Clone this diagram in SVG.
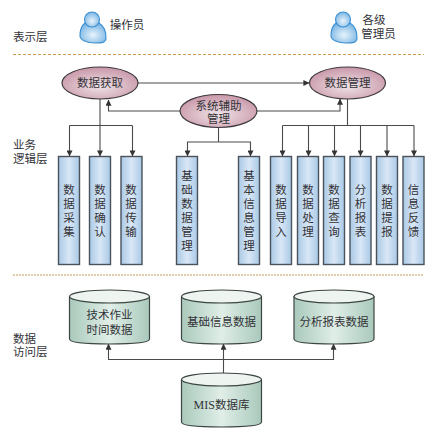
<svg xmlns="http://www.w3.org/2000/svg" width="435" height="433" viewBox="0 0 435 433">
<style>
text{font-family:"Noto Sans CJK SC","Noto Sans",sans-serif;font-size:11.5px;fill:#333338;text-anchor:middle}
.l{text-anchor:start}
.mis{font-family:"Liberation Serif",serif;font-size:12px}
.pe{fill:url(#pink);stroke:#3f3a40;stroke-width:1.2}
.bx{fill:url(#blue);stroke:#4a525c;stroke-width:1.4}
.cy{fill:url(#green);stroke:#3c4542;stroke-width:1.2}
.ct{fill:#eef5f1;stroke:#3c4542;stroke-width:1.2}
.p{fill:url(#sky);stroke:#3d8fd0;stroke-width:1.1}
.c{fill:none;stroke:#4a4a4a;stroke-width:1.1}
.a{marker-end:url(#ah)}
.d1{stroke:#c99a50;stroke-width:1;stroke-dasharray:3 2;fill:none}
.d2{stroke:#d8bc90;stroke-width:1.6;stroke-dasharray:2 1;fill:none}
</style>
<defs>
<marker id="ah" viewBox="0 0 8 8" refX="7.5" refY="4" markerWidth="6" markerHeight="6" markerUnits="userSpaceOnUse" orient="auto"><path d="M0 0L8 4L0 8Z" fill="#333"/></marker>
<radialGradient id="pink" cx="0.5" cy="0.6" r="0.6"><stop offset="0" stop-color="#efe3e7"/><stop offset="1" stop-color="#c896a8"/></radialGradient>
<linearGradient id="blue" x1="0" x2="1" y1="0" y2="0"><stop offset="0" stop-color="#a9c9e6"/><stop offset="0.5" stop-color="#d9e7f6"/><stop offset="1" stop-color="#a9c9e6"/></linearGradient>
<linearGradient id="green" x1="0" x2="1" y1="0" y2="0"><stop offset="0" stop-color="#a9c9bb"/><stop offset="0.5" stop-color="#e0eee7"/><stop offset="1" stop-color="#a9c9bb"/></linearGradient>
<radialGradient id="sky" cx="0.5" cy="0.6" r="0.65"><stop offset="0" stop-color="#e8f3fb"/><stop offset="1" stop-color="#6fb0e2"/></radialGradient>
<g id="person"><path class="p" d="M-8 -5C-12 -2 -13 3 -13 8C-13 12 -6 15 2 15C8 15 13 15 13 10C13 3 11 -2 6 -5C2 -2 -4 -2 -8 -5Z"/><circle class="p" cx="-1" cy="-8.500" r="7.500"/></g>
<g id="cyl"><path class="cy" d="M0 6.500V49Q0 54 40 54Q80 54 80 49V6.500Z"/><ellipse class="ct" cx="40" cy="6.500" rx="40" ry="6.500"/></g>
</defs>
<g id="layers">
<path class="d1" d="M13 54.500H424"/>
<path class="d2" d="M13 275H424"/>
<text class="l" x="13" y="41">表示层</text>
<text class="l" x="13" y="149">业务</text>
<text class="l" x="13" y="163">逻辑层</text>
<text class="l" x="13" y="343">数据</text>
<text class="l" x="13" y="356">访问层</text>
</g>
<g id="connectors">
<path class="c a" d="M138 83H309"/>
<path class="c a" d="M180 111H108.500V100"/>
<path class="c a" d="M257 111H340V99"/>
<path class="c" d="M100 99V125.500M69.500 125.500H132.500"/>
<path class="c a" d="M69.500 125.500V156"/>
<path class="c a" d="M100 125.500V156"/>
<path class="c a" d="M132.500 125.500V156"/>
<path class="c" d="M218.500 127V142"/>
<path class="c a" d="M218.500 142H187.500V156"/>
<path class="c a" d="M218.500 142H250.500V156"/>
<path class="c" d="M347.500 99V125.500M282.500 125.500H414"/>
<path class="c a" d="M282.500 125.500V156"/>
<path class="c a" d="M308.500 125.500V156"/>
<path class="c a" d="M334.500 125.500V156"/>
<path class="c a" d="M360.500 125.500V156"/>
<path class="c a" d="M387 125.500V156"/>
<path class="c a" d="M414 125.500V156"/>
<path class="c a" d="M223.500 373V344"/>
<path class="c a" d="M223.500 359.500H108.500V344"/>
<path class="c a" d="M223.500 359.500H333.500V344"/>
</g>
<g id="op"><use href="#person" x="93" y="28"/><text x="127" y="29">操作员</text></g>
<g id="admin"><use href="#person" x="344" y="28"/><text x="374" y="24">各级</text><text x="378.500" y="38">管理员</text></g>
<g id="acquire"><ellipse class="pe" cx="100" cy="83" rx="38" ry="16"/><text x="100" y="87">数据获取</text></g>
<g id="manage"><ellipse class="pe" cx="347.500" cy="83" rx="38" ry="16"/><text x="347.500" y="87">数据管理</text></g>
<g id="support"><ellipse class="pe" cx="218.500" cy="111" rx="38.500" ry="16.500"/><text x="218.500" y="110">系统辅助</text><text x="218.500" y="123">管理</text></g>
<g id="n1"><rect class="bx" x="58.500" y="156.500" width="21" height="108"/><text x="69" y="194">数</text><text x="69" y="208">据</text><text x="69" y="222">采</text><text x="69" y="236">集</text></g>
<g id="n2"><rect class="bx" x="89.500" y="156.500" width="21" height="108"/><text x="100" y="194">数</text><text x="100" y="208">据</text><text x="100" y="222">确</text><text x="100" y="236">认</text></g>
<g id="n3"><rect class="bx" x="121" y="156.500" width="21" height="108"/><text x="131" y="194">数</text><text x="131" y="208">据</text><text x="131" y="222">传</text><text x="131" y="236">输</text></g>
<g id="n4"><rect class="bx" x="176.500" y="156.500" width="21" height="108"/><text x="187" y="179.500">基</text><text x="187" y="194">础</text><text x="187" y="208">数</text><text x="187" y="222">据</text><text x="187" y="236">管</text><text x="187" y="250">理</text></g>
<g id="n5"><rect class="bx" x="238.500" y="156.500" width="21" height="108"/><text x="249" y="179.500">基</text><text x="249" y="194">本</text><text x="249" y="208">信</text><text x="249" y="222">息</text><text x="249" y="236">管</text><text x="249" y="250">理</text></g>
<g id="n6"><rect class="bx" x="270.500" y="156.500" width="21" height="108"/><text x="281" y="194">数</text><text x="281" y="208">据</text><text x="281" y="222">导</text><text x="281" y="236">入</text></g>
<g id="n7"><rect class="bx" x="297.500" y="156.500" width="21" height="108"/><text x="308" y="194">数</text><text x="308" y="208">据</text><text x="308" y="222">处</text><text x="308" y="236">理</text></g>
<g id="n8"><rect class="bx" x="323.500" y="156.500" width="21" height="108"/><text x="334" y="194">数</text><text x="334" y="208">据</text><text x="334" y="222">查</text><text x="334" y="236">询</text></g>
<g id="n9"><rect class="bx" x="350" y="156.500" width="21" height="108"/><text x="360.500" y="194">分</text><text x="360.500" y="208">析</text><text x="360.500" y="222">报</text><text x="360.500" y="236">表</text></g>
<g id="n10"><rect class="bx" x="376.500" y="156.500" width="21" height="108"/><text x="387" y="194">数</text><text x="387" y="208">据</text><text x="387" y="222">提</text><text x="387" y="236">报</text></g>
<g id="n11"><rect class="bx" x="403" y="156.500" width="21" height="108"/><text x="413.500" y="194">信</text><text x="413.500" y="208">息</text><text x="413.500" y="222">反</text><text x="413.500" y="236">馈</text></g>
<g id="db1"><use href="#cyl" x="69.500" y="290"/><text x="109.500" y="319">技术作业</text><text x="109.500" y="334">时间数据</text></g>
<g id="db2"><use href="#cyl" x="181.500" y="290"/><text x="221.500" y="326">基础信息数据</text></g>
<g id="db3"><use href="#cyl" x="294" y="290"/><text x="334" y="326">分析报表数据</text></g>
<g id="mis"><use href="#cyl" x="181.500" y="373"/><text x="221.500" y="409"><tspan class="mis">MIS</tspan>数据库</text></g>
</svg>
